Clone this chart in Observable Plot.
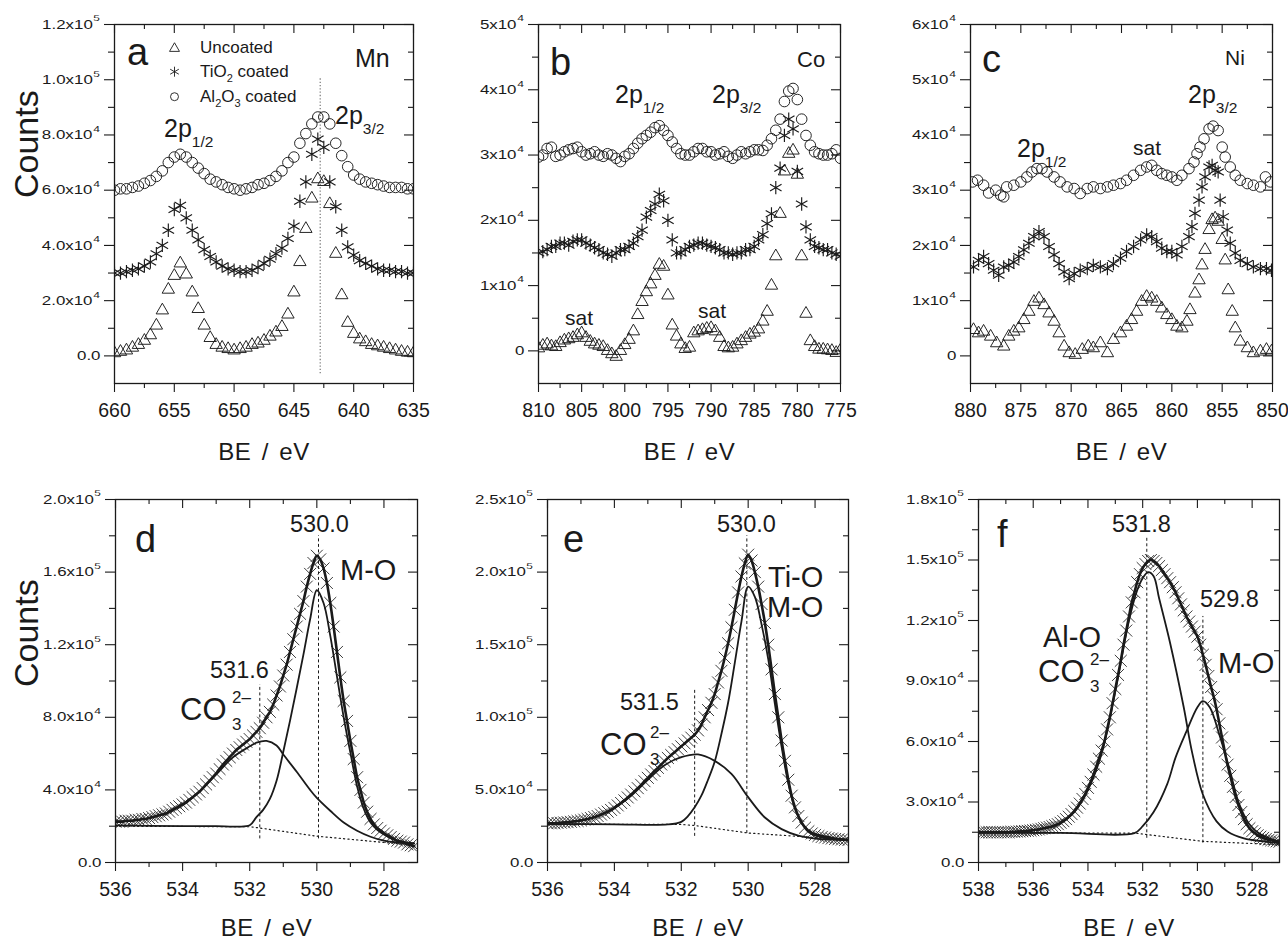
<!DOCTYPE html>
<html>
<head>
<meta charset="utf-8">
<script src="https://cdn.jsdelivr.net/npm/d3@7"></script>
<script src="https://cdn.jsdelivr.net/npm/@observablehq/plot@0.6"></script>
<style>
  html, body { margin: 0; padding: 0; background: #fff; overflow: hidden; }
  #root { position: relative; width: 1288px; height: 942px; overflow: hidden; background: #fff; }
  #root > svg { position: absolute; overflow: visible; }
</style>
</head>
<body>
<div id="root"></div>
<script>
const FONT = '"Liberation Sans", Arial, Helvetica, sans-serif';
const INK = "#1a1a1a";

// ================= Panel a : Mn 2p (counts in units of 1e4) =================
const aBE = [660,659.5,659,658.5,658,657.5,657,656.5,656,655.5,655,654.5,654,653.5,653,652.5,652,651.5,651,650.5,650,649.5,649,648.5,648,647.5,647,646.5,646,645.5,645,644.5,644,643.5,643,642.5,642,641.5,641,640.5,640,639.5,639,638.5,638,637.5,637,636.5,636,635.5,635];
const aUncoated = [0.1,0.15,0.2,0.3,0.4,0.55,0.75,1.1,1.65,2.4,2.9,3.35,2.95,2.3,1.7,1.1,0.65,0.4,0.3,0.25,0.2,0.25,0.3,0.4,0.45,0.55,0.7,0.85,1.05,1.5,2.3,3.4,4.6,5.7,6.4,6.3,5.5,3.7,2.2,1.2,0.8,0.6,0.5,0.4,0.35,0.3,0.25,0.2,0.15,0.12,0.1];
const aTiO2 = [3.0,3.0,3.05,3.1,3.15,3.25,3.4,3.7,4.0,4.55,5.3,5.45,5.0,4.55,4.2,3.85,3.6,3.4,3.25,3.15,3.1,3.05,3.05,3.1,3.2,3.35,3.5,3.7,3.9,4.25,4.7,5.6,6.3,7.3,7.85,7.55,6.3,5.4,4.55,3.95,3.65,3.45,3.35,3.25,3.15,3.1,3.1,3.05,3.05,3.0,3.0];
const aAl2O3 = [6.0,6.05,6.05,6.1,6.15,6.25,6.35,6.5,6.7,7.0,7.2,7.3,7.2,7.0,6.8,6.6,6.4,6.3,6.2,6.1,6.05,6.0,6.05,6.1,6.2,6.25,6.35,6.5,6.7,7.0,7.2,7.7,8.05,8.4,8.65,8.65,8.4,7.7,7.25,6.85,6.55,6.4,6.3,6.25,6.2,6.15,6.1,6.1,6.1,6.05,6.05];
const aRefBE = [642.8], aRefLo = [-0.65], aRefHi = [10.05];
const aXTicks = [660,655,650,645,640,635], aXMinor = [657.5,652.5,647.5,642.5,637.5];
const aYTicks = [0,2,4,6,8,10,12], aYMinor = [1,3,5,7,9,11];
const aYLabels = ["0.0","2.0x10⁴","4.0x10⁴","6.0x10⁴","8.0x10⁴","1.0x10⁵","1.2x10⁵"];

// ================= Panel b : Co 2p =================
const bBE = [810,809.5,809,808.5,808,807.5,807,806.5,806,805.5,805,804.5,804,803.5,803,802.5,802,801.5,801,800.5,800,799.5,799,798.5,798,797.5,797,796.5,796,795.5,795,794.5,794,793.5,793,792.5,792,791.5,791,790.5,790,789.5,789,788.5,788,787.5,787,786.5,786,785.5,785,784.5,784,783.5,783,782.5,782,781.5,781,780.5,780,779.5,779,778.5,778,777.5,777,776.5,776,775.5,775];
const bUncoated = [0.04,0.08,0.1,0.07,0.06,0.12,0.16,0.18,0.2,0.24, 0.27,0.2,0.14,0.1,0.08,0.06,0.0,-0.05,-0.09,0.0, 0.09,0.17,0.3,0.55,0.75,0.9,1.02,1.15,1.32,1.29, 0.85,0.39,0.22,0.1,0.03,0.05,0.27,0.3,0.32,0.34, 0.35,0.3,0.2,0.06,0.04,0.05,0.1,0.15,0.2,0.25, 0.28,0.33,0.45,0.6,1.0,1.45,2.1,2.75,3.02,3.07, 2.7,1.45,0.57,0.15,0.06,0.02,0.02,0.01,0.0,-0.03, 0.01];
const bTiO2 = [1.5,1.52,1.55,1.6,1.6,1.65,1.65,1.62,1.68,1.7, 1.7,1.65,1.62,1.58,1.55,1.5,1.48,1.45,1.5,1.55, 1.55,1.6,1.65,1.75,1.85,2.05,2.15,2.25,2.4,2.3, 2.0,1.7,1.5,1.5,1.55,1.6,1.62,1.65,1.65,1.62, 1.6,1.58,1.55,1.5,1.5,1.48,1.5,1.5,1.55,1.55, 1.6,1.7,1.78,1.95,2.1,2.5,2.8,3.3,3.55,3.4, 2.75,2.25,1.9,1.7,1.6,1.58,1.55,1.55,1.5,1.48, 1.45];
const bAl2O3 = [2.97,3.0,3.1,3.12,2.98,3.0,3.05,3.08,3.1,3.12, 3.05,3.0,3.02,3.05,3.0,2.98,3.02,3.0,2.95,2.9, 2.98,3.02,3.1,3.18,3.25,3.3,3.35,3.42,3.45,3.38, 3.3,3.2,3.1,3.02,3.0,3.0,3.05,3.1,3.1,3.05, 3.05,3.0,3.02,3.05,2.98,2.95,3.0,3.05,3.02,3.05, 3.08,3.08,3.07,3.15,3.25,3.38,3.55,3.82,3.98,4.02, 3.85,3.55,3.3,3.15,3.05,3.02,3.0,3.0,3.02,3.08, 2.95];
const bXTicks = [810,805,800,795,790,785,780,775], bXMinor = [807.5,802.5,797.5,792.5,787.5,782.5,777.5];
const bYTicks = [0,1,2,3,4,5], bYMinor = [0.5,1.5,2.5,3.5,4.5];
const bYLabels = ["0","1x10⁴","2x10⁴","3x10⁴","4x10⁴","5x10⁴"];

// ================= Panel c : Ni 2p =================
const cUncBE = [879.7,879.2,878.7,878.0,877.4,876.7,876.2,875.7,875.2,874.7,874.2,873.7,873.2,872.7,872.2,871.7,871.2,870.7,870.2,869.6,868.9,868.3,867.8,867.1,866.4,865.8,865.1,864.5,864.0,863.5,863.0,862.5,862.0,861.5,861.0,860.5,860.0,859.5,859.0,858.5,858.2,857.7,857.3,857.0,856.7,856.3,856.0,855.7,855.4,855.0,854.7,854.4,854.0,853.7,853.2,852.5,851.9,851.2,850.6,850.1];
const cUncoated = [0.47,0.41,0.44,0.35,0.23,0.17,0.35,0.44,0.5,0.65,0.8,0.98,1.04,0.92,0.77,0.62,0.41,0.17,0.05,0.02,0.11,0.17,0.14,0.23,0.05,0.29,0.41,0.53,0.65,0.8,0.98,1.07,1.04,0.98,0.86,0.74,0.65,0.53,0.5,0.62,0.83,1.13,1.37,1.64,1.92,2.28,2.46,2.49,2.43,2.1,1.73,1.19,0.8,0.5,0.26,0.14,0.05,0.08,0.11,0.08];
const cTiBE = [879.7,879.2,878.7,878.2,877.7,877.2,876.7,876.2,875.7,875.2,874.7,874.2,873.7,873.2,872.7,872.2,871.7,871.2,870.7,870.2,869.7,869.1,868.4,867.8,867.1,866.4,865.8,865.1,864.5,863.8,863.1,862.5,862.0,861.5,861.0,860.5,860.0,859.5,859.0,858.3,858.0,857.7,857.3,857.0,856.7,856.3,856.0,855.7,855.4,855.2,854.9,854.5,854.2,853.7,853.2,852.5,851.9,851.2,850.6,850.1];
const cTiO2 = [1.61,1.73,1.8,1.67,1.55,1.46,1.61,1.64,1.7,1.8,1.92,2.04,2.16,2.25,2.16,1.98,1.83,1.67,1.52,1.4,1.49,1.55,1.58,1.64,1.61,1.58,1.67,1.77,1.89,1.98,2.1,2.19,2.16,2.07,1.95,1.89,1.89,1.83,1.98,2.16,2.34,2.58,2.82,3.06,3.24,3.42,3.45,3.36,3.33,2.82,2.52,2.28,2.04,1.86,1.73,1.67,1.61,1.58,1.58,1.55];
const cAlBE = [879.8,879.3,878.7,878.2,877.5,877.0,876.7,876.4,875.7,875.0,874.4,873.9,873.4,872.9,872.4,871.7,871.1,870.4,869.7,869.1,868.4,867.8,867.1,866.4,865.8,865.1,864.5,863.8,863.1,862.5,862.0,861.5,861.0,860.5,860.0,859.5,859.0,858.3,857.8,857.5,857.2,856.8,856.3,855.9,855.4,855.0,854.7,854.2,853.7,853.2,852.5,851.9,851.2,850.7,850.2];
const cAl2O3 = [3.15,3.18,3.09,2.95,3.0,2.91,2.88,3.06,3.09,3.15,3.24,3.33,3.39,3.39,3.33,3.24,3.15,3.06,3.03,2.94,3.03,3.06,3.03,3.06,3.09,3.12,3.18,3.27,3.36,3.42,3.45,3.36,3.3,3.27,3.24,3.18,3.27,3.39,3.51,3.66,3.78,3.93,4.11,4.16,4.08,3.78,3.6,3.42,3.27,3.18,3.12,3.09,3.06,3.24,3.15];
const cXTicks = [880,875,870,865,860,855,850], cXMinor = [877.5,872.5,867.5,862.5,857.5,852.5];
const cYTicks = [0,1,2,3,4,5,6], cYMinor = [0.5,1.5,2.5,3.5,4.5,5.5];
const cYLabels = ["0","1x10⁴","2x10⁴","3x10⁴","4x10⁴","5x10⁴","6x10⁴"];

// ================= Panel d : O 1s uncoated =================
const dBE = [536,535.9,535.8,535.7,535.6,535.5,535.4,535.3,535.2,535.1,535,534.9,534.8,534.7,534.6,534.5,534.4,534.3,534.2,534.1,534,533.9,533.8,533.7,533.6,533.5,533.4,533.3,533.2,533.1,533,532.9,532.8,532.7,532.6,532.5,532.4,532.3,532.2,532.1,532,531.9,531.8,531.7,531.6,531.5,531.4,531.3,531.2,531.1,531,530.9,530.8,530.7,530.6,530.5,530.4,530.3,530.2,530.1,530,529.9,529.8,529.7,529.6,529.5,529.4,529.3,529.2,529.1,529,528.9,528.8,528.7,528.6,528.5,528.4,528.3,528.2,528.1,528,527.9,527.8,527.7,527.6,527.5,527.4,527.3,527.2,527.1];
const dCounts = [2.25,2.25,2.25,2.3,2.3,2.3,2.35,2.35,2.4,2.4, 2.45,2.5,2.55,2.6,2.65,2.7,2.8,2.9,3.0,3.1, 3.2,3.3,3.45,3.6,3.75,3.9,4.1,4.3,4.5,4.7, 4.9,5.15,5.4,5.6,5.8,6.0,6.2,6.35,6.5,6.65, 6.8,7.0,7.2,7.4,7.7,8.0,8.3,8.7,9.2,9.7, 10.3,10.9,11.6,12.3,13.0,13.7,14.4,15.2,15.9,16.5, 16.9,16.7,16.2,15.4,14.3,13.0,11.6,10.2,8.9,7.8, 6.7,5.7,4.7,4.0,3.3,2.8,2.4,2.1,1.9,1.75, 1.6,1.5,1.4,1.3,1.2,1.15,1.1,1.0,0.95,0.9];
const dCO3BE = [536,535.5,535,534.5,534,533.5,533,532.5,532,531.8,531.5,531.2,531,530.6,530.2,530,529.6,529.2,528.8,528.4,528,527.6,527.1];
const dCO3 = [2.25,2.3,2.45,2.7,3.2,3.9,4.85,5.8,6.4,6.6,6.7,6.45,5.95,5.0,4.0,3.56,2.85,2.2,1.75,1.42,1.2,1.1,1.05];
const dMOBE = [536,535,534,533,532.4,532,531.8,531.6,531.4,531.2,531,530.8,530.6,530.4,530.2,530,529.8,529.6,529.4,529.2,529,528.8,528.6,528.4,528.2,528,527.6,527.1];
const dMO = [2.05,2.02,2.0,2.0,1.98,2.05,2.5,2.9,3.5,4.5,6.1,7.8,9.6,11.45,13.4,15.0,14.3,12.5,10.25,8.0,6.05,4.2,2.95,2.2,1.8,1.55,1.2,1.05];
const dBaseBE = [536,532,531.7,530,527.1], dBase = [2.0,1.97,1.9,1.45,0.95];
const dPeakBE = [531.7,529.95], dPeakLo = [1.3,1.3], dPeakHi = [9.8,18.0];
const dXTicks = [536,534,532,530,528], dXMinor = [535,533,531,529];
const dYTicks = [0,4,8,12,16,20], dYMinor = [2,6,10,14,18];
const dYLabels = ["0.0","4.0x10⁴","8.0x10⁴","1.2x10⁵","1.6x10⁵","2.0x10⁵"];

// ================= Panel e : O 1s TiO2 coated =================
const eBE = [536,535.9,535.8,535.7,535.6,535.5,535.4,535.3,535.2,535.1,535,534.9,534.8,534.7,534.6,534.5,534.4,534.3,534.2,534.1,534,533.9,533.8,533.7,533.6,533.5,533.4,533.3,533.2,533.1,533,532.9,532.8,532.7,532.6,532.5,532.4,532.3,532.2,532.1,532,531.9,531.8,531.7,531.6,531.5,531.4,531.3,531.2,531.1,531,530.9,530.8,530.7,530.6,530.5,530.4,530.3,530.2,530.1,530,529.9,529.8,529.7,529.6,529.5,529.4,529.3,529.2,529.1,529,528.9,528.8,528.7,528.6,528.5,528.4,528.3,528.2,528.1,528,527.9,527.8,527.7,527.6,527.5,527.4,527.3,527.2,527.1,527];
const eCounts = [2.7,2.7,2.7,2.72,2.74,2.76,2.78,2.8,2.83,2.86, 2.9,2.95,3.0,3.06,3.13,3.2,3.3,3.4,3.5,3.62, 3.76,3.93,4.1,4.28,4.48,4.68,4.9,5.12,5.35,5.6, 5.83,6.06,6.3,6.52,6.75,6.98,7.2,7.4,7.6,7.8, 8.0,8.2,8.4,8.6,8.8,9.1,9.5,10.0,10.5,11.0, 11.6,12.4,13.2,14.1,15.1,16.2,17.4,18.6,19.7,20.6, 21.2,20.8,20.0,19.0,17.8,16.5,15.0,13.3,11.6,10.0, 8.4,7.0,5.7,4.6,3.8,3.2,2.75,2.4,2.15,2.0, 1.9,1.82,1.76,1.72,1.68,1.65,1.62,1.6,1.58,1.56, 1.55];
const eCO3BE = [536,535.5,535,534.5,534,533.5,533,532.5,532,531.5,531,530.5,530,529.5,529,528.5,528,527.5,527];
const eCO3 = [2.7,2.76,2.9,3.2,3.76,4.6,5.7,6.7,7.25,7.44,7.0,6.1,4.5,3.1,2.3,1.85,1.65,1.58,1.55];
const eMOBE = [536,534,532.4,532,531.8,531.6,531.4,531.2,531,530.8,530.6,530.4,530.2,530,529.8,529.6,529.4,529.2,529,528.8,528.6,528.4,528.2,528,527.5,527];
const eMO = [2.65,2.63,2.62,2.8,3.2,3.8,4.6,5.7,6.95,8.85,11.0,13.75,16.6,19.0,18.3,16.4,14.0,10.9,7.97,5.44,3.7,2.73,2.2,1.97,1.72,1.57];
const eBaseBE = [536,532,531.6,530,527], eBase = [2.65,2.62,2.55,2.03,1.57];
const ePeakBE = [531.6,530.04], ePeakLo = [1.8,2.0], ePeakHi = [11.9,22.5];
const eXTicks = [536,534,532,530,528], eXMinor = [535,533,531,529];
const eYTicks = [0,5,10,15,20,25], eYMinor = [2.5,7.5,12.5,17.5,22.5];
const eYLabels = ["0.0","5.0x10⁴","1.0x10⁵","1.5x10⁵","2.0x10⁵","2.5x10⁵"];

// ================= Panel f : O 1s Al2O3 coated =================
const fBE = [538,537.9,537.8,537.7,537.6,537.5,537.4,537.3,537.2,537.1,537,536.9,536.8,536.7,536.6,536.5,536.4,536.3,536.2,536.1,536,535.9,535.8,535.7,535.6,535.5,535.4,535.3,535.2,535.1,535,534.9,534.8,534.7,534.6,534.5,534.4,534.3,534.2,534.1,534,533.9,533.8,533.7,533.6,533.5,533.4,533.3,533.2,533.1,533,532.9,532.8,532.7,532.6,532.5,532.4,532.3,532.2,532.1,532,531.9,531.8,531.7,531.6,531.5,531.4,531.3,531.2,531.1,531,530.9,530.8,530.7,530.6,530.5,530.4,530.3,530.2,530.1,530,529.9,529.8,529.7,529.6,529.5,529.4,529.3,529.2,529.1,529,528.9,528.8,528.7,528.6,528.5,528.4,528.3,528.2,528.1,528,527.9,527.8,527.7,527.6,527.5,527.4,527.3,527.2,527.1,527];
const fCounts = [1.5,1.5,1.5,1.5,1.5,1.5,1.5,1.5,1.5,1.5, 1.5,1.5,1.52,1.52,1.53,1.54,1.55,1.56,1.57,1.58, 1.6,1.62,1.64,1.67,1.7,1.73,1.76,1.8,1.85,1.9, 1.97,2.05,2.15,2.27,2.4,2.55,2.72,2.92,3.15,3.4, 3.7,4.0,4.36,4.75,5.15,5.55,6.0,6.6,7.2,7.9, 8.6,9.3,10.0,10.8,11.5,12.2,12.9,13.4,13.9,14.3, 14.6,14.8,14.95,15.0,14.95,14.85,14.7,14.5,14.3,14.1, 13.9,13.65,13.4,13.1,12.8,12.5,12.2,11.95,11.7,11.45, 11.2,10.8,10.3,9.8,9.25,8.7,8.2,7.6,6.9,6.2, 5.5,4.85,4.3,3.75,3.25,2.85,2.5,2.15,1.9,1.7, 1.55,1.45,1.35,1.28,1.22,1.17,1.13,1.1,1.08,1.05, 1.03];
const fAlOBE = [538,537,536,535.5,535,534.5,534,533.5,533,532.5,532.2,532,531.8,531.6,531.4,531,530.5,530.2,529.8,529.3,528.9,528.3,527.6,527];
const fAlO = [1.5,1.5,1.6,1.73,1.95,2.5,3.6,5.4,8.5,12.0,13.5,14.1,14.4,14.2,13.1,10.9,7.7,5.5,3.37,2.04,1.54,1.2,1.05,0.96];
const fMOBE = [538,535,532.3,532,531.6,531.1,530.8,530.4,530,529.8,529.55,529.2,528.8,528.5,528.1,527.7,527];
const fMO = [1.47,1.47,1.46,1.8,2.5,3.9,5.2,6.5,7.7,8.0,7.7,6.35,4.5,3.0,1.9,1.4,1.03];
const fBaseBE = [538,532.3,529.8,527], fBase = [1.47,1.46,1.05,0.88];
const fPeakBE = [531.85,529.8], fPeakLo = [1.2,0.96], fPeakHi = [16.1,12.2];
const fXTicks = [538,536,534,532,530,528], fXMinor = [537,535,533,531,529];
const fYTicks = [0,3,6,9,12,15,18], fYMinor = [1.5,4.5,7.5,10.5,13.5,16.5];
const fYLabels = ["0.0","3.0x10⁴","6.0x10⁴","9.0x10⁴","1.2x10⁵","1.5x10⁵","1.8x10⁵"];

// ================= helpers =================
const root = document.getElementById("root");
const SUP = "⁰¹²³⁴⁵⁶⁷⁸⁹";
const dotBase = {fill: "none", stroke: INK, strokeWidth: 0.95, clip: true};
const tri = (data, xs) => Plot.dot(data, {x: xs, y: d => d, symbol: "triangle", r: 4.6, ...dotBase});
const ast = (data, xs) => Plot.dot(data, {x: xs, y: d => d, symbol: "asterisk", r: 6.3, ...dotBase, strokeWidth: 1.15});
const cir = (data, xs) => Plot.dot(data, {x: xs, y: d => d, symbol: "circle", r: 5.3, ...dotBase});
const crs = (data, xs) => Plot.dot(data, {x: xs, y: d => d, symbol: "times", r: 5.5, ...dotBase, stroke: "#333"});
const curve = (data, xs, w) => Plot.line(data, {x: xs, y: d => d, curve: "catmull-rom", stroke: INK, strokeWidth: w, clip: true});
const dotted = (data, xs) => Plot.line(data, {x: xs, y: d => d, stroke: INK, strokeWidth: 1.2, strokeDasharray: "1.2,3.2", clip: true});
const peaks = (xs, lo, hi) => Plot.ruleX(xs, {x: d => d, y1: lo, y2: hi, stroke: INK, strokeWidth: 1, strokeDasharray: "3,2.5"});

function tickMarks(xMaj, xMin, yMaj, yMin, iw, ih) {
  const s = {stroke: INK, strokeWidth: 1.1};
  return [
    Plot.ruleY(yMaj, {y: d => d, insetLeft: -10, insetRight: iw, ...s}),
    Plot.ruleY(yMin, {y: d => d, insetLeft: -6, insetRight: iw, ...s}),
    Plot.ruleY(yMaj, {y: d => d, insetLeft: iw - 9, ...s}),
    Plot.ruleY(yMin, {y: d => d, insetLeft: iw - 5, ...s}),
    Plot.ruleX(xMaj, {x: d => d, insetTop: ih, insetBottom: -9, ...s}),
    Plot.ruleX(xMin, {x: d => d, insetTop: ih, insetBottom: -5, ...s}),
    Plot.ruleX(xMaj, {x: d => d, insetBottom: ih - 9, ...s}),
    Plot.ruleX(xMin, {x: d => d, insetBottom: ih - 5, ...s})
  ];
}

function panel(c) {
  const mL = 110, mR = 8, mT = 10, mB = 84;
  const iw = c.R - c.L, ih = c.B - c.T;
  const marks = [
    ...c.marks,
    Plot.frame({stroke: INK, strokeWidth: 1.3}),
    ...tickMarks(c.xTicks, c.xMinor, c.yTicks, c.yMinor, iw, ih),
    Plot.text(c.yTicks, {y: d => d, text: c.yLabels, frameAnchor: "left", dx: -14, textAnchor: "end", lineAnchor: "middle", fontSize: 13, fill: INK}),
    Plot.text(c.xTicks, {x: d => d, text: c.xTicks.map(String), frameAnchor: "bottom", dy: 33, lineAnchor: "bottom", fontSize: 19.5, fill: INK}),
    Plot.text(["BE / eV"], {text: d => d, frameAnchor: "bottom", dy: c.titleDy, lineAnchor: "bottom", fontSize: 24, fill: INK})
  ];
  if (c.yTitle) marks.push(Plot.text([c.yTitle], {text: d => d, frameAnchor: "left", dx: c.yTitleDx, dy: c.yTitleDy, rotate: -90, lineAnchor: "middle", fontSize: 34, fill: INK}));
  const svg = Plot.plot({
    width: mL + iw + mR, height: mT + ih + mB,
    marginLeft: mL, marginRight: mR, marginTop: mT, marginBottom: mB,
    x: {domain: c.xDomain, axis: null},
    y: {domain: c.yDomain, axis: null},
    style: {fontFamily: FONT, background: "transparent", color: INK, overflow: "visible"},
    marks
  });
  svg.style.position = "absolute";
  svg.style.left = (c.L - mL) + "px";
  svg.style.top = (c.T - mT) + "px";
  root.appendChild(svg);
  // tick label styling: horizontally widened exponent labels, raised exponent
  const set = new Set(c.yLabels);
  d3.select(svg).selectAll("text").each(function () {
    const s = this.textContent;
    const t = d3.select(this);
    if (s === "BE / eV") { t.style("word-spacing", "3px").style("letter-spacing", "0.6px"); return; }
    if (!set.has(s)) return;
    const tr = t.attr("transform") || "";
    t.attr("transform", tr + " scale(1.3,1)");
    const last = s.slice(-1);
    if (SUP.includes(last)) {
      t.text(s.slice(0, -1));
      t.append("tspan").attr("dy", "-0.3em").attr("font-size", "1.1em").text(last);
    }
  });
}

panel({L: 114, R: 413, T: 24, B: 383, xDomain: [660, 635], yDomain: [-1, 12],
  xTicks: aXTicks, xMinor: aXMinor, yTicks: aYTicks, yMinor: aYMinor, yLabels: aYLabels,
  titleDy: 76, yTitle: "Counts", yTitleDx: -87.5, yTitleDy: -6,
  marks: [Plot.ruleX(aRefBE, {x: d => d, y1: aRefLo, y2: aRefHi, stroke: "#777", strokeWidth: 1.2, strokeDasharray: "1.3,2"}),
          cir(aAl2O3, aBE), ast(aTiO2, aBE), tri(aUncoated, aBE)]});

panel({L: 538, R: 840, T: 24, B: 383, xDomain: [810, 775], yDomain: [-0.5, 5],
  xTicks: bXTicks, xMinor: bXMinor, yTicks: bYTicks, yMinor: bYMinor, yLabels: bYLabels,
  titleDy: 76,
  marks: [cir(bAl2O3, bBE), ast(bTiO2, bBE), tri(bUncoated, bBE)]});

panel({L: 970, R: 1272, T: 24, B: 383, xDomain: [880, 850], yDomain: [-0.5, 6],
  xTicks: cXTicks, xMinor: cXMinor, yTicks: cYTicks, yMinor: cYMinor, yLabels: cYLabels,
  titleDy: 76,
  marks: [cir(cAl2O3, cAlBE), ast(cTiO2, cTiBE), tri(cUncoated, cUncBE)]});

panel({L: 115, R: 417, T: 499, B: 862, xDomain: [536, 527], yDomain: [0, 20],
  xTicks: dXTicks, xMinor: dXMinor, yTicks: dYTicks, yMinor: dYMinor, yLabels: dYLabels,
  titleDy: 73, yTitle: "Counts", yTitleDx: -88.3, yTitleDy: 6,
  marks: [crs(dCounts, dBE), dotted(dBase, dBaseBE), peaks(dPeakBE, dPeakLo, dPeakHi),
          curve(dCO3, dCO3BE, 1.8), curve(dMO, dMOBE, 1.8), curve(dCounts, dBE, 2.6)]});

panel({L: 547, R: 848, T: 499, B: 862, xDomain: [536, 527], yDomain: [0, 25],
  xTicks: eXTicks, xMinor: eXMinor, yTicks: eYTicks, yMinor: eYMinor, yLabels: eYLabels,
  titleDy: 73,
  marks: [crs(eCounts, eBE), dotted(eBase, eBaseBE), peaks(ePeakBE, ePeakLo, ePeakHi),
          curve(eCO3, eCO3BE, 1.8), curve(eMO, eMOBE, 1.8), curve(eCounts, eBE, 2.6)]});

panel({L: 978, R: 1279, T: 499, B: 862, xDomain: [538, 527], yDomain: [0, 18],
  xTicks: fXTicks, xMinor: fXMinor, yTicks: fYTicks, yMinor: fYMinor, yLabels: fYLabels,
  titleDy: 73,
  marks: [crs(fCounts, fBE), dotted(fBase, fBaseBE), peaks(fPeakBE, fPeakLo, fPeakHi),
          curve(fAlO, fAlOBE, 1.8), curve(fMO, fMOBE, 1.8), curve(fCounts, fBE, 2.6)]});

// ================= annotations overlay =================
const ov = d3.select(root).append("svg")
  .attr("width", 1288).attr("height", 942)
  .style("left", "0px").style("top", "0px")
  .attr("font-family", FONT).attr("fill", INK);
function T(x, y, size, s) { return ov.append("text").attr("x", x).attr("y", y).attr("font-size", size).text(s); }
function orbital(x, y, sub) { const t = T(x, y, 25, "2p"); t.append("tspan").attr("dy", 10).attr("font-size", 15.5).text(sub); }
function carbonate(x, y, xs) {
  const t = T(x, y, 31, "CO");
  t.append("tspan").attr("x", xs).attr("y", y + 10).attr("font-size", 17).text("3");
  t.append("tspan").attr("x", xs).attr("y", y - 17).attr("font-size", 17).text("2–");
}
// panel letters
[["a",127,65],["b",550,75],["c",982,72],["d",135,552],["e",563,552],["f",997,547]].forEach(([s,x,y]) => T(x, y, 38, s));
// panel a
T(355, 67, 25, "Mn");
orbital(164, 137, "1/2");
orbital(335, 124, "3/2");
const legendRows = [[d3.symbolTriangle, 43, 48.5], [d3.symbolAsterisk, 70, 71.7], [d3.symbolCircle, 50, 96.7]];
legendRows.forEach(([sym, size, y]) => ov.append("path").attr("transform", `translate(174.5,${y})`)
  .attr("d", d3.symbol(sym, size)()).attr("fill", "none").attr("stroke", INK).attr("stroke-width", 0.9));
T(200, 53.3, 17, "Uncoated");
{ const t = T(200, 76.7, 17, "TiO"); t.append("tspan").attr("dy", 5).attr("font-size", 11).text("2"); t.append("tspan").attr("dy", -5).text(" coated"); }
{ const t = T(200, 101.7, 17, "Al"); t.append("tspan").attr("dy", 5).attr("font-size", 11).text("2");
  t.append("tspan").attr("dy", -5).text("O"); t.append("tspan").attr("dy", 5).attr("font-size", 11).text("3");
  t.append("tspan").attr("dy", -5).text(" coated"); }
// panel b
T(797, 67, 22, "Co");
orbital(615, 103, "1/2");
orbital(712, 103, "3/2");
T(565, 325, 21, "sat");
T(698, 318, 21, "sat");
// panel c
T(1225, 65, 21, "Ni");
orbital(1188, 103, "3/2");
orbital(1017, 157, "1/2");
T(1133, 155, 21, "sat");
// panel d
T(290, 532, 23.5, "530.0");
T(340, 580, 29, "M-O");
T(210, 678, 23.5, "531.6");
carbonate(180, 720, 232);
// panel e
T(717, 532, 23.5, "530.0");
T(768, 587, 29, "Ti-O");
T(767, 617, 29, "M-O");
T(620, 710, 23.5, "531.5");
carbonate(600, 755, 650);
// panel f
T(1112, 532, 23.5, "531.8");
T(1200, 607, 23.5, "529.8");
T(1043, 647, 29, "Al-O");
carbonate(1038, 682, 1090);
T(1218, 673, 29, "M-O");
</script>
</body>
</html>
